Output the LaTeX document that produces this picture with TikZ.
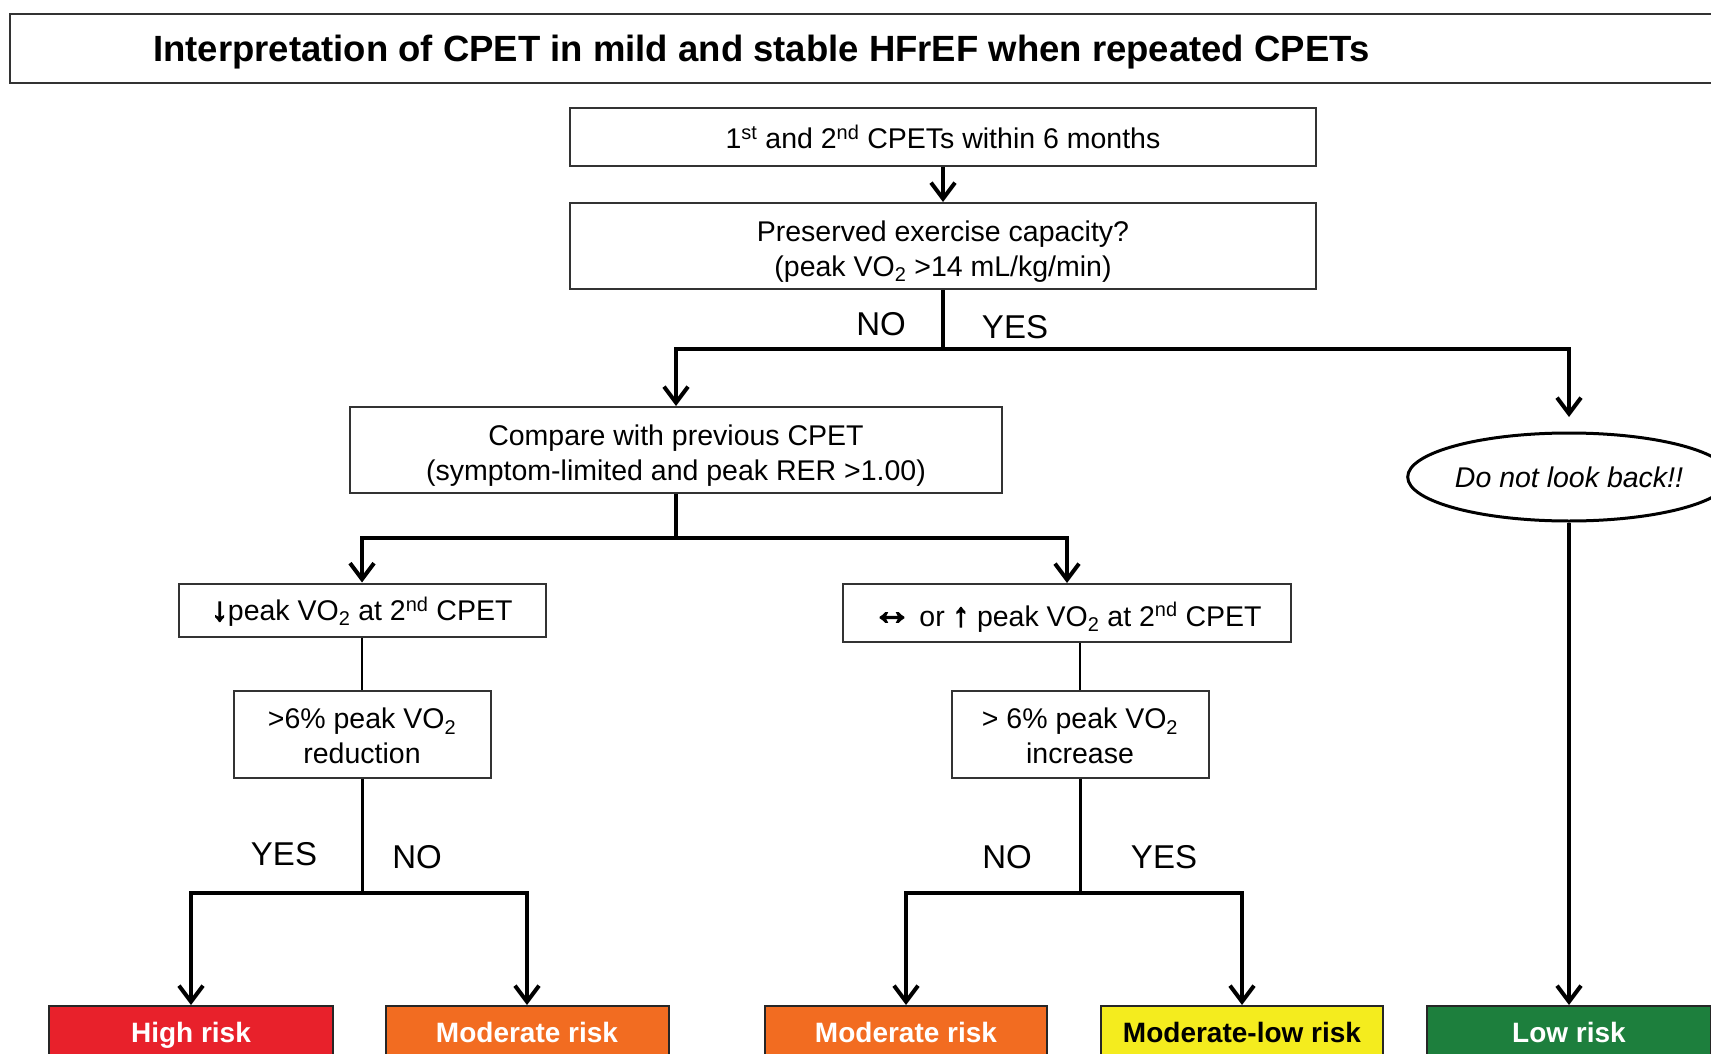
\documentclass[tikz,border=0pt]{standalone}
\usepackage{fontspec}
\setmainfont{Liberation Sans}
\newfontfamily\heavyarrows[FakeBold=4,Scale=1.15]{Liberation Sans}
\usetikzlibrary{arrows.meta,shapes.geometric}
\usetikzlibrary{positioning}

\definecolor{riskred}{RGB}{232,33,43}
\definecolor{riskorange}{RGB}{242,108,33}
\definecolor{riskyellow}{RGB}{244,236,30}
\definecolor{riskgreen}{RGB}{29,127,61}

\begin{document}
\begin{tikzpicture}[x=1pt,y=-1pt]
	 \tikzstyle{box}=[rectangle,draw=black!80,line width=2pt,inner sep=0pt,align=center,font=\fontsize{28.5}{35}\selectfont]
	 \tikzstyle{risk}=[rectangle,draw=black!85,line width=2pt,inner sep=0pt,minimum height=52,text height=25pt,text depth=4pt,font=\bfseries\fontsize{28}{34}\selectfont,text=white]
	 \tikzstyle{edge}=[draw,line width=4pt,-,black]
	 \tikzstyle{arrow}=[edge,-{Straight Barb[length=16pt,width=24pt]}]
	 \tikzstyle{answer}=[font=\fontsize{33}{40}\selectfont]
	 \clip (0,0) rectangle (1711,1054);
	 \fill[white] (0,0) rectangle (1711,1054);

	 % title
	 \node[box,minimum width=1720,minimum height=69,anchor=north west] (frame) at (9,13) {};
	 \node[anchor=base west,inner sep=0pt,font=\bfseries\fontsize{36.5}{44}\selectfont] (title) at (153,62) {Interpretation of CPET in mild and stable HFrEF when repeated CPETs};

	 \node[box,minimum width=746,minimum height=58,text height=28pt,text depth=4pt] (b1) at (943,137) {1\textsuperscript{st} and 2\textsuperscript{nd} CPETs within 6 months};
	 \node[box,minimum width=746,minimum height=86] (b2) at (943,246) {\rule{0pt}{32pt}Preserved exercise capacity?\\(peak VO\textsubscript{2} >14 mL/kg/min)};
	 \node[box,minimum width=652,minimum height=86] (b3) at (676,450) {\rule{0pt}{32pt}Compare with previous CPET\\(symptom-limited and peak RER >1.00)};
	 \node[ellipse,draw,line width=3pt,minimum width=316,minimum height=88,inner sep=0pt,font=\itshape\fontsize{28.5}{35}\selectfont] (ell) at (1569,477) {Do not look back!!};
	 \node[box,minimum width=367,minimum height=53,text height=25pt,text depth=4pt] (b4) at (362,610) {{\heavyarrows ↓}peak VO\textsubscript{2} at 2\textsuperscript{nd} CPET};
	 \node[box,minimum width=448,minimum height=58,text height=30pt,text depth=4pt] (b5) at (1067,613) {\raisebox{2pt}{\heavyarrows\fontsize{34}{38}\selectfont ↔} or {\heavyarrows ↑} peak VO\textsubscript{2} at 2\textsuperscript{nd} CPET};
	 \node[box,minimum width=257,minimum height=87] (b6) at (362,734) {\rule{0pt}{25pt}>6\% peak VO\textsubscript{2}\\reduction};
	 \node[box,minimum width=257,minimum height=87] (b7) at (1080,734) {\rule{0pt}{25pt}> 6\% peak VO\textsubscript{2}\\increase};

	 \node[risk,fill=riskred,minimum width=284] (r1) at (191,1032) {High risk};
	 \node[risk,fill=riskorange,minimum width=283] (r2) at (527,1032) {Moderate risk};
	 \node[risk,fill=riskorange,minimum width=282] (r3) at (906,1032) {Moderate risk};
	 \node[risk,fill=riskyellow,minimum width=282,text=black] (r4) at (1242,1032) {Moderate-low risk};
	 \node[risk,fill=riskgreen,minimum width=284] (r5) at (1569,1032) {Low risk};

	 \coordinate (j1) at (943,349);
	 \coordinate (yes1) at (1569,417);
	 \coordinate (j2) at (676,538);
	 \coordinate (j3) at (362,893);
	 \coordinate (j4) at (1080,893);

	 \draw[arrow] (b1) -- (b2);
	 \draw[edge] (b2) -- (j1);
	 \draw[arrow] (j1) -| (b3);
	 \draw[arrow] (j1) -| (yes1);
	 \draw[edge] (b3) -- (j2);
	 \draw[arrow] (j2) -| (b4);
	 \draw[arrow] (j2) -| (b5);
	 \draw[edge,line width=2.5pt] (b4) -- (b6);
	 \draw[edge,line width=2.5pt] (b5.south -| b7.north) -- (b7);
	 \draw[edge,line width=3pt] (b6) -- (j3);
	 \draw[arrow] (j3) -| (r1);
	 \draw[arrow] (j3) -| (r2);
	 \draw[edge,line width=3pt] (b7) -- (j4);
	 \draw[arrow] (j4) -| (r3);
	 \draw[arrow] (j4) -| (r4);
	 \draw[arrow] (ell) -- (r5);

	 \node[answer] (no1) at (881,324) {NO};
	 \node[answer] (yes2) at (1015,327) {YES};
	 \node[answer] (yes3) at (284,854) {YES};
	 \node[answer] (no2) at (417,857) {NO};
	 \node[answer] (no3) at (1007,857) {NO};
	 \node[answer] (yes4) at (1164,857) {YES};
 \end{tikzpicture}
\end{document}
